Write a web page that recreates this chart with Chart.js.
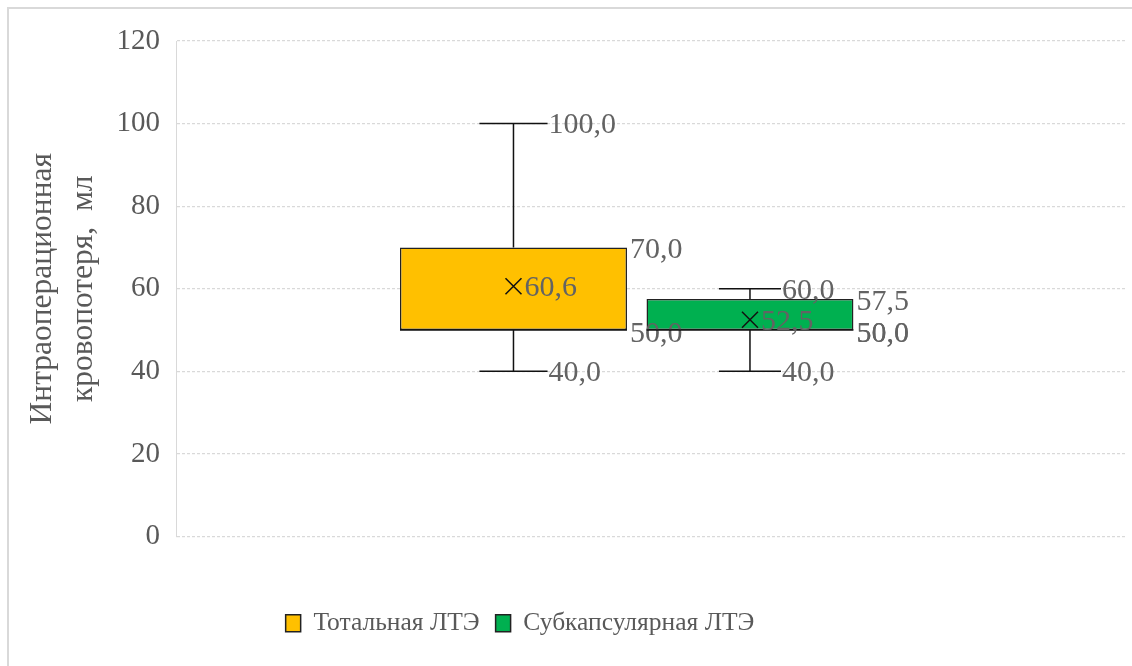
<!DOCTYPE html>
<html lang="ru">
<head>
<meta charset="UTF-8" />
<title>Интраоперационная кровопотеря</title>
<script src="https://cdn.jsdelivr.net/npm/chart.js"></script>
<style>
  html, body { margin: 0; padding: 0; background: #fff; overflow: hidden; }
  #frame { position: absolute; left: 7px; top: 7px; width: 1200px; height: 700px; border: 2px solid #d9d9d9; }
  #wrap { position: absolute; left: 0; top: 0; width: 1132px; height: 666px; }
</style>
</head>
<body>
<div id="frame"></div>
<div id="wrap"><canvas id="boxChart"></canvas></div>

<script>
  // series (one box per group)
  const seriesNames = ["Тотальная ЛТЭ", "Субкапсулярная ЛТЭ"];
  const seriesColors = ["#FFC000", "#00B050"];
  const minValues = [40, 40];
  const q1Values = [50, 50];
  const medianValues = [50, 50];
  const q3Values = [70, 57.5];
  const maxValues = [100, 60];
  const meanValues = [60.6, 52.5];
  const showMedianLabel = [false, true];
  const yTicks = [0, 20, 40, 60, 80, 100, 120];
  const yTitle = ["Интраоперационная", "кровопотеря,  мл"];

  const fmt = v => v.toFixed(1).replace(".", ",");

  // whiskers, median, mean marker and value labels
  const boxWhiskerPlugin = {
    id: "boxWhisker",
    afterDatasetsDraw(chart) {
      const ctx = chart.ctx;
      const y = chart.scales.y;
      ctx.save();
      chart.data.datasets.forEach((ds, i) => {
        const bar = chart.getDatasetMeta(i).data[0];
        const cx = bar.x;
        const half = bar.width / 2;
        const cap = bar.width * 0.15;
        const yMin = y.getPixelForValue(minValues[i]);
        const yQ1 = y.getPixelForValue(q1Values[i]);
        const yMed = y.getPixelForValue(medianValues[i]);
        const yQ3 = y.getPixelForValue(q3Values[i]);
        const yMax = y.getPixelForValue(maxValues[i]);
        const yMean = y.getPixelForValue(meanValues[i]);

        ctx.strokeStyle = "#111";
        ctx.lineWidth = 1.5;
        ctx.beginPath();
        ctx.moveTo(cx, yQ3); ctx.lineTo(cx, yMax);
        ctx.moveTo(cx - cap, yMax); ctx.lineTo(cx + cap, yMax);
        ctx.moveTo(cx, yQ1); ctx.lineTo(cx, yMin);
        ctx.moveTo(cx - cap, yMin); ctx.lineTo(cx + cap, yMin);
        ctx.moveTo(cx - half, yMed); ctx.lineTo(cx + half, yMed);
        // mean cross
        const r = 8;
        ctx.moveTo(cx - r, yMean - r); ctx.lineTo(cx + r, yMean + r);
        ctx.moveTo(cx - r, yMean + r); ctx.lineTo(cx + r, yMean - r);
        ctx.stroke();

        ctx.fillStyle = "#636363";
        ctx.font = "30px 'Liberation Serif', 'Times New Roman', serif";
        ctx.textAlign = "left";
        ctx.textBaseline = "middle";
        ctx.fillText(fmt(maxValues[i]), cx + cap + 1, yMax + 2);
        ctx.fillText(fmt(minValues[i]), cx + cap + 1, yMin + 2);
        ctx.fillText(fmt(q3Values[i]), cx + half + 3, yQ3 + 3);
        if (showMedianLabel[i]) ctx.fillText(fmt(medianValues[i]), cx + half + 3, yMed + 4);
        ctx.fillText(fmt(q1Values[i]), cx + half + 3, yQ1 + 4);
        ctx.fillText(fmt(meanValues[i]), cx + 11, yMean + 2);
      });
      ctx.restore();
    }
  };

  // legend sits a bit left of centre, as in the original
  const legendShift = {
    id: "legendShift",
    afterLayout(chart) {
      chart.legend.left -= 43;
      chart.legend.right -= 43;
    }
  };

  const datasets = seriesNames.map((name, i) => ({
    label: name,
    data: [{ x: i, y: [q1Values[i], q3Values[i]] }],
    backgroundColor: seriesColors[i],
    borderColor: "#222",
    borderWidth: 1.5,
    borderSkipped: false,
    grouped: false,
    categoryPercentage: 1,
    barPercentage: i === 0 ? 0.96 : 0.875
  }));

  new Chart(document.getElementById("boxChart"), {
    type: "bar",
    data: { datasets: datasets },
    options: {
      responsive: true,
      maintainAspectRatio: false,
      animation: false,
      layout: { padding: { top: 41, right: 6, bottom: 20, left: 0 } },
      plugins: {
        legend: {
          position: "bottom",
          labels: {
            color: "#595959",
            font: { family: "'Liberation Serif', serif", size: 25.5 },
            boxWidth: 15,
            boxHeight: 17,
            padding: 16
          }
        },
        tooltip: { enabled: false }
      },
      scales: {
        x: {
          type: "linear",
          offset: false,
          min: -1.427,
          max: 2.59,
          grid: { display: false },
          border: { display: false },
          ticks: { display: false },
          // one tick per box so bar widths follow the box spacing
          afterBuildTicks: scale => { scale.ticks = seriesNames.map((n, i) => ({ value: i })); },
          afterFit: scale => { scale.height = 58; }
        },
        y: {
          min: yTicks[0],
          max: yTicks[yTicks.length - 1],
          ticks: {
            stepSize: yTicks[1] - yTicks[0],
            color: "#595959",
            padding: 16,
            font: { family: "'Liberation Serif', serif", size: 29 }
          },
          grid: { color: "#d9d9d9", lineWidth: 1.2, drawTicks: false },
          border: { display: true, color: "#d9d9d9", dash: [3, 2] },
          title: {
            display: true,
            text: yTitle,
            color: "#595959",
            font: { family: "'Liberation Serif', serif", size: 31.5, lineHeight: 1.3 },
            padding: { top: 22, bottom: 0 }
          },
          afterFit: scale => { scale.width = 176; }
        }
      }
    },
    plugins: [boxWhiskerPlugin, legendShift]
  });
</script>
</body>
</html>
